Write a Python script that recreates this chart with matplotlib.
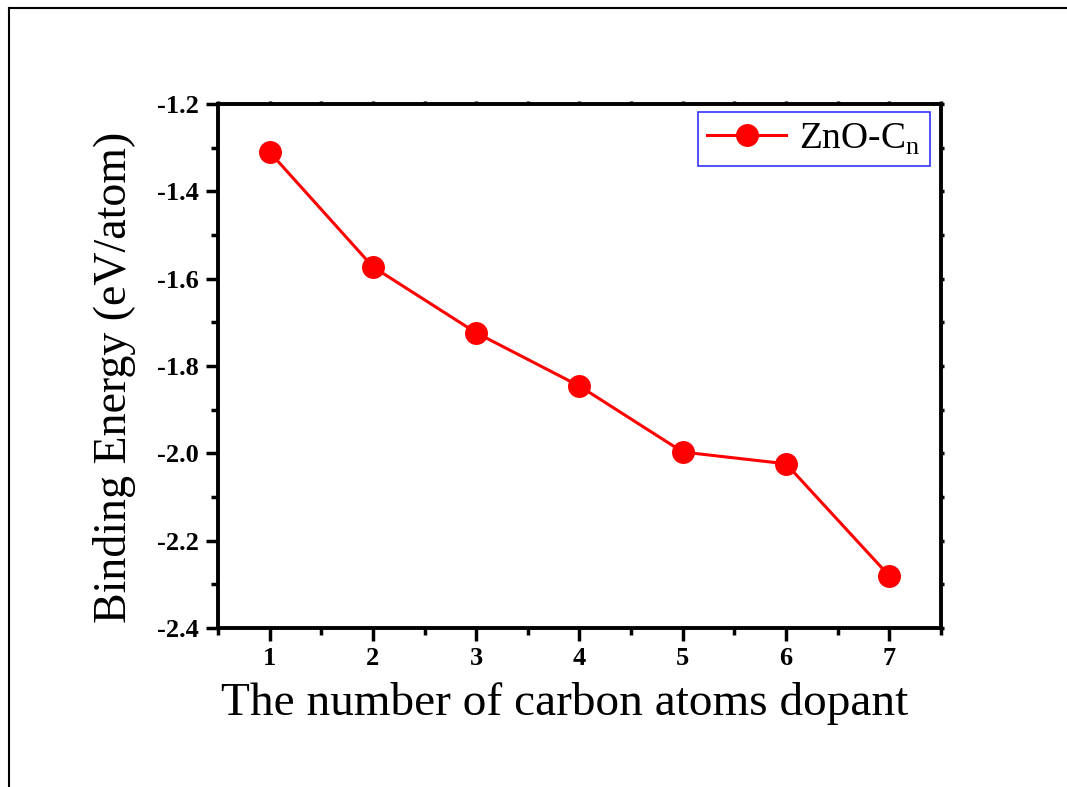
import matplotlib
matplotlib.use("Agg")
import matplotlib.pyplot as plt
from matplotlib.lines import Line2D
from matplotlib.ticker import MultipleLocator, FormatStrFormatter

n_atoms = [1, 2, 3, 4, 5, 6, 7]
binding_energy = [-1.310, -1.573, -1.724, -1.846, -1.997, -2.024, -2.281]
series_label = "ZnO-C$_\\mathregular{n}$"
xlabel = "The number of carbon atoms dopant"
ylabel = "Binding Energy (eV/atom)"

plt.rcParams['font.family'] = ['Liberation Serif', 'DejaVu Serif']
plt.rcParams['mathtext.fontset'] = 'custom'
plt.rcParams['mathtext.rm'] = 'Liberation Serif'

fig = plt.figure(figsize=(10.67, 7.87), dpi=100)
ax = fig.add_axes([218/1067, 1-628/787, (941-218)/1067, (628-104)/787])

ax.plot(n_atoms, binding_energy, color='#ff0000', lw=2.2, marker='o',
        markersize=15.5, markerfacecolor='#ff0000', markeredgecolor='#ff0000',
        label=series_label)

ax.set_xlim(0.5, 7.5)
ax.set_ylim(-2.4, -1.2)
ax.xaxis.set_major_locator(MultipleLocator(1))
ax.xaxis.set_minor_locator(MultipleLocator(0.5))
ax.yaxis.set_major_locator(MultipleLocator(0.2))
ax.yaxis.set_minor_locator(MultipleLocator(0.1))
ax.yaxis.set_major_formatter(FormatStrFormatter('%.1f'))

for s in ax.spines.values():
    s.set_linewidth(2.8)

ax.tick_params(axis='both', which='major', direction='out', length=9, width=2.5,
               labelsize=19, pad=5)
ax.tick_params(axis='both', which='minor', direction='out', length=5, width=2.5)
ax.tick_params(top=True, right=True, which='both')
for t in ax.xaxis.get_major_ticks() + ax.xaxis.get_minor_ticks():
    t.tick2line.set_markersize(2)
for t in ax.yaxis.get_major_ticks() + ax.yaxis.get_minor_ticks():
    t.tick2line.set_markersize(2)
for lab in ax.get_xticklabels() + ax.get_yticklabels():
    lab.set_fontweight('bold')

ax.set_xlabel(xlabel, fontsize=34)
ax.xaxis.set_label_coords((565 - 218) / (941 - 218), (628 - 682) / 524)
ax.set_ylabel(ylabel, fontsize=33)
ax.yaxis.set_label_coords((136 - 218) / (941 - 218), (628 - 377) / 524)

leg = ax.legend(loc='upper right', fontsize=27, frameon=True, fancybox=False,
                edgecolor='#0000ff', bbox_to_anchor=(930/1067, 1-112/787),
                bbox_transform=fig.transFigure, borderaxespad=0.0,
                handlelength=2.1, handletextpad=0.35, borderpad=0.25)
leg.get_frame().set_linewidth(1.2)

# outer frame lines
fig.add_artist(Line2D([9/1067, 9/1067], [0, 1-8/787], transform=fig.transFigure,
                      color='black', lw=1.5))
fig.add_artist(Line2D([9/1067, 1], [1-8/787, 1-8/787], transform=fig.transFigure,
                      color='black', lw=1.5))

fig.savefig("out.png", dpi=100)
